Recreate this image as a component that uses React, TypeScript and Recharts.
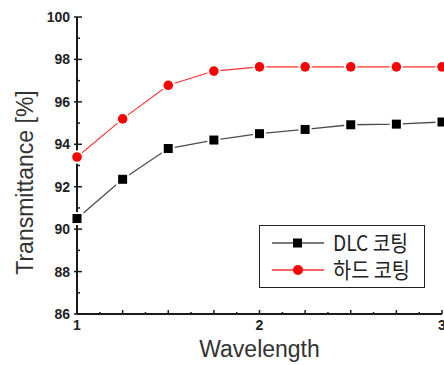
import { Label, Line, LineChart, XAxis, YAxis, Legend } from "recharts";

// wavelength positions and measured transmittance (%)
const WAVELENGTH = [1, 1.25, 1.5, 1.75, 2, 2.25, 2.5, 2.75, 3];
const DLC = [90.5, 92.35, 93.8, 94.2, 94.5, 94.7, 94.92, 94.95, 95.05];
const HARD = [93.4, 95.2, 96.78, 97.45, 97.65, 97.65, 97.65, 97.65, 97.65];

const X_TICKS = [1, 1.125, 1.25, 1.375, 1.5, 1.625, 1.75, 1.875, 2, 2.125, 2.25, 2.375, 2.5, 2.625, 2.75, 2.875, 3];
const X_LABELS = [1, 2, 3];
const Y_TICKS = [86, 87, 88, 89, 90, 91, 92, 93, 94, 95, 96, 97, 98, 99, 100];

const SERIES = [
  { key: "dlc", name: "DLC 코팅", color: "#4d4d4d", marker: "square" },
  { key: "hard", name: "하드 코팅", color: "#ff3030", marker: "circle" },
];

const data = WAVELENGTH.map((w, i) => ({ w, dlc: DLC[i], hard: HARD[i] }));

const TICK_FONT = "'Liberation Sans', Arial, sans-serif";
const AXIS = "#1a1a1a";

function XTick(props: any) {
  const { x, y, payload } = props;
  const v = payload.value;
  const quarter = Math.abs(v * 4 - Math.round(v * 4)) < 1e-6;
  const labelled = X_LABELS.includes(v);
  return (
    <g>
      <line x1={x} x2={x} y1={y} y2={y - (quarter ? 4 : 2)} stroke={AXIS} strokeWidth={1.5} />
      {labelled && (
        <text x={x} y={y + 16} textAnchor="middle" fontFamily={TICK_FONT} fontWeight="bold" fontSize={14} fill="#222">
          {v}
        </text>
      )}
    </g>
  );
}

function YTick(props: any) {
  const { x, y, payload } = props;
  const v = payload.value;
  const major = v % 2 === 0;
  return (
    <g>
      <line x1={major ? x - 3 : x} x2={x + (major ? 5 : 3)} y1={y} y2={y} stroke={AXIS} strokeWidth={1.5} />
      {major && (
        <text x={x - 7} y={y + 5} textAnchor="end" fontFamily={TICK_FONT} fontWeight="bold" fontSize={14} fill="#222">
          {v}
        </text>
      )}
    </g>
  );
}

function SquareDot(props: any) {
  const { cx, cy, index } = props;
  if (cx == null || cy == null) return <g key={`s${index}`} />;
  return (
    <rect key={`s${index}`} x={cx - 4.5} y={cy - 4.5} width={9} height={9} fill="#000" stroke="#fff" strokeWidth={4} paintOrder="stroke" />
  );
}

function CircleDot(props: any) {
  const { cx, cy, index } = props;
  if (cx == null || cy == null) return <g key={`c${index}`} />;
  return <circle key={`c${index}`} cx={cx} cy={cy} r={4.8} fill="#ff0000" stroke="#fff" strokeWidth={4} paintOrder="stroke" />;
}

function LegendBox() {
  return (
    <div style={{ border: "1px solid #222", width: 164, height: 61, background: "#fff" }}>
      <svg width={164} height={61}>
        {SERIES.map((s, i) => {
          const cy = 17 + i * 27;
          return (
            <g key={s.key}>
              <line x1={12} x2={64} y1={cy} y2={cy} stroke={s.color} strokeWidth={1.3} />
              {s.marker === "square" ? (
                <rect x={33} y={cy - 4.5} width={9} height={9} fill="#000" />
              ) : (
                <circle cx={38} cy={cy} r={5} fill="#ff0000" />
              )}
              <text
                x={73}
                y={cy + 8}
                fontFamily="'Noto Sans CJK KR', sans-serif"
                fontSize={22}
                fill="#222"
                textLength={i === 0 ? 75 : 77}
                lengthAdjust="spacingAndGlyphs"
              >
                {s.name}
              </text>
            </g>
          );
        })}
      </svg>
    </div>
  );
}

function YTitle(props: any) {
  const { viewBox } = props;
  const cx = 25;
  const cy = viewBox.y + viewBox.height / 2 + 17;
  return (
    <text
      x={cx}
      y={cy}
      transform={`rotate(-90 ${cx} ${cy})`}
      textAnchor="middle"
      dominantBaseline="central"
      fontFamily={TICK_FONT}
      fontSize={23}
      fill="#333"
    >
      Transmittance [%]
    </text>
  );
}

export default function App() {
  return (
    <div style={{ position: "absolute", left: 0, top: 0, width: 444, height: 365, background: "#fff", overflow: "hidden" }}>
      <LineChart width={444} height={365} data={data} margin={{ top: 17, right: 2, left: 0, bottom: 0 }}>
        <XAxis
          dataKey="w"
          type="number"
          domain={[1, 3]}
          ticks={X_TICKS}
          interval={0}
          tickSize={0}
          tickMargin={0}
          tickLine={false}
          tick={<XTick />}
          height={51}
          axisLine={{ stroke: AXIS, strokeWidth: 2 }}
        >
          <Label
            value="Wavelength"
            position="insideBottom"
            offset={8}
            style={{ fontFamily: TICK_FONT, fontSize: 23, fill: "#333", textAnchor: "middle" }}
          />
        </XAxis>
        <XAxis xAxisId="top" orientation="top" type="number" domain={[1, 3]} height={0} tick={false} tickLine={false} axisLine={{ stroke: AXIS, strokeWidth: 2 }} />
        <YAxis
          type="number"
          domain={[86, 100]}
          ticks={Y_TICKS}
          interval={0}
          tickSize={0}
          tickMargin={0}
          tickLine={false}
          tick={<YTick />}
          width={77}
          axisLine={{ stroke: AXIS, strokeWidth: 2 }}
        >
          <Label content={<YTitle />} />
        </YAxis>
        <YAxis yAxisId="right" orientation="right" type="number" domain={[86, 100]} width={0} tick={false} tickLine={false} axisLine={{ stroke: AXIS, strokeWidth: 2 }} />
        <Legend
          layout="horizontal"
          verticalAlign="middle"
          align="center"
          content={<LegendBox />}
          wrapperStyle={{ left: 259, top: 225, width: 166, height: 63 }}
        />
        <Line dataKey="dlc" name={SERIES[0].name} stroke={SERIES[0].color} strokeWidth={1.3} dot={SquareDot} isAnimationActive={false} />
        <Line dataKey="hard" name={SERIES[1].name} stroke={SERIES[1].color} strokeWidth={1.1} dot={CircleDot} isAnimationActive={false} />
      </LineChart>
    </div>
  );
}
